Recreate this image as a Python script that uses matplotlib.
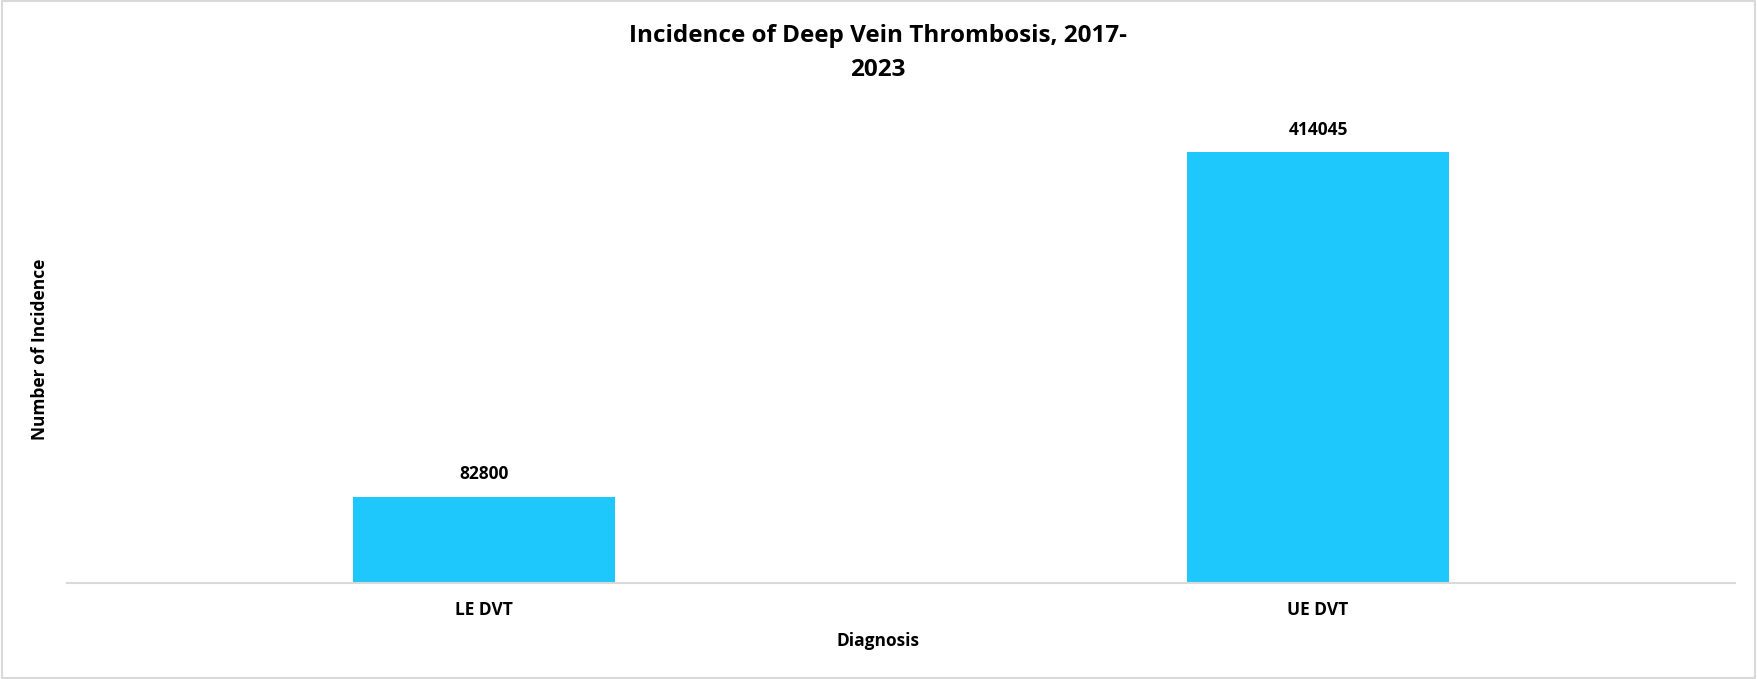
import matplotlib
matplotlib.use("Agg")
import matplotlib.pyplot as plt
from matplotlib.patches import Rectangle

# data
categories = ["LE DVT", "UE DVT"]
incidence = [82800, 414045]

BAR_COLOR = "#1EC8FC"
GRID_GREY = "#D9D9D9"
FONT = "Open Sans"

W, H = 1757, 679
fig = plt.figure(figsize=(W / 100, H / 100), dpi=100)
fig.patch.set_facecolor("white")

# plot area in pixel terms: x 67..1735, y (top) 115..583
ax = fig.add_axes([67 / W, (H - 583) / H, 1668 / W, 468 / H])
x = list(range(len(categories)))
bars = ax.bar(x, incidence, width=0.313, color=BAR_COLOR)

ax.set_xlim(-0.5, len(categories) - 0.5)
ax.set_ylim(0, 450000)
ax.set_yticks([])
for s in ["top", "right", "left"]:
    ax.spines[s].set_visible(False)
ax.spines["bottom"].set_color(GRID_GREY)
ax.spines["bottom"].set_linewidth(1.5)

ax.set_xticks(x)
ax.set_xticklabels(categories, fontsize=12.5, fontweight="bold", family=FONT)
ax.tick_params(axis="x", length=0, pad=13)

ax.bar_label(bars, labels=[str(v) for v in incidence], padding=10,
             fontsize=12.5, fontweight="bold", family=FONT)

fig.text(878 / W, 1 - 53 / H, "Incidence of Deep Vein Thrombosis, 2017-\n2023",
         ha="center", va="center", fontsize=17.5, fontweight="bold",
         family=FONT, linespacing=1.55)
fig.text(878 / W, 1 - 641 / H, "Diagnosis", ha="center", va="center",
         fontsize=12.5, fontweight="bold", family=FONT)
fig.text(40 / W, 1 - 349 / H, "Number of Incidence", ha="center", va="center",
         rotation=90, fontsize=12.5, fontweight="bold", family=FONT)

# light outer border like the source chart
fig.patches.append(Rectangle((0.001, 0.002), 0.998, 0.996, transform=fig.transFigure,
                             fill=False, edgecolor=GRID_GREY, linewidth=1.5))

fig.savefig("out.png", dpi=100, facecolor="white")
